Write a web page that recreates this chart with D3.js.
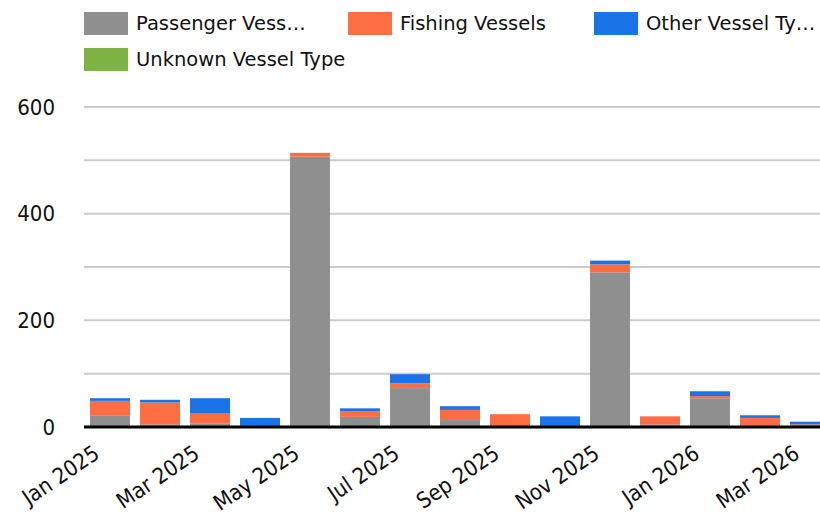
<!DOCTYPE html>
<html>
<head>
<meta charset="utf-8">
<script src="https://cdn.jsdelivr.net/npm/d3@7"></script>
<style>
  html, body { margin: 0; padding: 0; background: #fff; }
  svg { display: block; }
  text { font-family: "DejaVu Sans", sans-serif; fill: #111; }
</style>
</head>
<body>
<svg id="chart" width="820" height="514"></svg>
<script>
const months = ["Jan 2025","Feb 2025","Mar 2025","Apr 2025","May 2025","Jun 2025","Jul 2025","Aug 2025","Sep 2025","Oct 2025","Nov 2025","Dec 2025","Jan 2026","Feb 2026","Mar 2026"];
const seriesNames = ["Passenger Vessels","Fishing Vessels","Other Vessel Types","Unknown Vessel Type"];
const legendLabels = ["Passenger Vess…","Fishing Vessels","Other Vessel Ty…","Unknown Vessel Type"];
const seriesColors = ["#8f8f8f","#ff6d42","#1a73e8","#7cb342"];
const passenger = [21, 5, 7, 0, 507, 19, 73, 13, 0, 0, 290, 5, 54, 2, 1];
const fishing   = [28, 41, 18, 2, 7, 10, 9, 19, 24, 2, 15, 15, 4, 15, 4];
const other     = [5, 5, 29, 15, 0, 6, 17, 7, 0, 18, 7, 0, 9, 5, 5];
const unknown   = [0, 0, 0, 0, 0, 0, 0, 0, 0, 0, 0, 0, 0, 0, 0];
const yTicks = [0, 200, 400, 600];
const gridTicks = [0, 100, 200, 300, 400, 500, 600];
const xLabelMonths = ["Jan 2025","Mar 2025","May 2025","Jul 2025","Sep 2025","Nov 2025","Jan 2026","Mar 2026"];

const rows = months.map((m, i) => ({
  month: m,
  "Passenger Vessels": passenger[i],
  "Fishing Vessels": fishing[i],
  "Other Vessel Types": other[i],
  "Unknown Vessel Type": unknown[i]
}));

const svg = d3.select("#chart");
const plotLeft = 84, plotRight = 820;
const x = d3.scaleBand().domain(months).range([85, 835]).paddingInner(0.2).paddingOuter(0.1);
const y = d3.scaleLinear().domain([0, 600]).range([427, 107]);
const color = d3.scaleOrdinal().domain(seriesNames).range(seriesColors);

// gridlines
svg.append("g").selectAll("line").data(gridTicks.filter(d => d > 0)).join("line")
  .attr("x1", plotLeft).attr("x2", plotRight)
  .attr("y1", d => y(d)).attr("y2", d => y(d))
  .attr("stroke", "#cccccc").attr("stroke-width", 2);

// y labels
svg.append("g").selectAll("text").data(yTicks).join("text")
  .attr("x", 55).attr("y", d => y(d))
  .attr("text-anchor", "end").attr("dominant-baseline", "central")
  .style("font-family", "'DejaVu Sans Condensed', 'DejaVu Sans', sans-serif")
  .style("font-size", "22px")
  .text(d => d3.format("d")(d));

// stacked bars
const stack = d3.stack().keys(seriesNames)(rows);
svg.append("g").selectAll("g").data(stack).join("g")
  .attr("fill", d => color(d.key))
  .selectAll("rect").data(d => d).join("rect")
  .attr("x", d => x(d.data.month))
  .attr("width", x.bandwidth())
  .attr("y", d => y(d[1]))
  .attr("height", d => Math.max(0, y(d[0]) - y(d[1])));

// x axis baseline
svg.append("line").attr("x1", plotLeft).attr("x2", plotRight)
  .attr("y1", y(0)).attr("y2", y(0))
  .attr("stroke", "#000").attr("stroke-width", 3);

// x labels
svg.append("g").selectAll("text").data(xLabelMonths).join("text")
  .attr("text-anchor", "end")
  .style("font-family", "'DejaVu Sans Condensed', 'DejaVu Sans', sans-serif")
  .style("font-size", "22px")
  .attr("transform", d => `translate(${x(d) + x.bandwidth() / 2 - 9},${457}) rotate(-34)`)
  .text(d => d);

// legend
const legendPos = [[84, 12], [348, 12], [594, 12], [84, 48]];
const lg = svg.append("g").selectAll("g").data(seriesNames).join("g")
  .attr("transform", (d, i) => `translate(${legendPos[i][0]},${legendPos[i][1]})`);
lg.append("rect").attr("width", 44).attr("height", 23).attr("fill", d => color(d));
lg.append("text").attr("x", 52).attr("y", 11).attr("dominant-baseline", "central")
  .style("font-size", "19.5px")
  .text((d, i) => legendLabels[i]);
</script>
</body>
</html>
